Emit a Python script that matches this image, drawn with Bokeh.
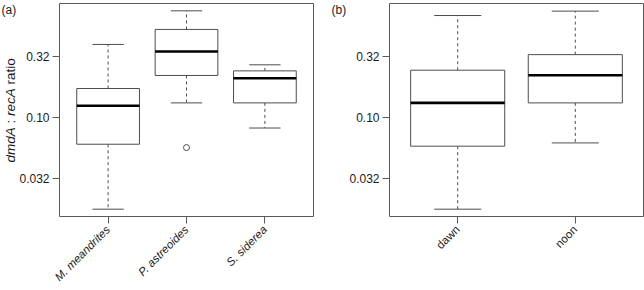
import math
from bokeh.plotting import figure
from bokeh.layouts import row
from bokeh.models import Range1d, FixedTicker, Label, ColumnDataSource
from bokeh.embed import file_html
from bokeh.resources import INLINE

# ---------------- data ----------------
species = ["M. meandrites", "P. astreoides", "S. siderea"]
sp_lo = [0.0179, 0.132, 0.0823]
sp_q1 = [0.0607, 0.221, 0.132]
sp_med = [0.125, 0.347, 0.210]
sp_q3 = [0.173, 0.525, 0.241]
sp_hi = [0.396, 0.745, 0.270]
sp_out_group = ["P. astreoides"]
sp_out_value = [0.057]

times = ["dawn", "noon"]
t_lo = [0.0179, 0.0622]
t_q1 = [0.0585, 0.132]
t_med = [0.132, 0.222]
t_q3 = [0.244, 0.327]
t_hi = [0.682, 0.741]

y_ticks = [10 ** -1.5, 0.1, 10 ** -0.5]
y_tick_labels = ["0.032", "0.10", "0.32"]

FONT = "Liberation Sans"
TEXT = "#1a1a1a"
LINE = "#4d4d4d"
FRAME = "#5a5a5a"
H = 290
FRAME_H = 214


def make_panel(cats, lo, q1, med, q3, hi, out_g, out_v, width, bl, br, italic):
    n = len(cats)
    pad = 0.04 * n
    p = figure(width=width, height=H, output_backend="svg", toolbar_location=None,
               y_axis_type="log",
               x_range=Range1d(0.5 - pad, n + 0.5 + pad),
               y_range=Range1d(0.0156, 0.855),
               min_border_left=bl, min_border_right=br,
               min_border_top=3, min_border_bottom=73)
    p.grid.visible = False
    p.outline_line_color = FRAME
    p.outline_line_width = 1
    p.background_fill_color = "white"
    p.border_fill_color = "white"

    xs = [i + 1 for i in range(n)]
    src = ColumnDataSource(dict(x=xs, lo=lo, q1=q1, med=med, q3=q3, hi=hi,
                                cl=[x - 0.2 for x in xs], cr=[x + 0.2 for x in xs],
                                bl=[x - 0.4 for x in xs], br=[x + 0.4 for x in xs]))
    p.segment(x0="x", y0="q3", x1="x", y1="hi", source=src, line_color=LINE,
              line_dash="3 3", line_width=1)
    p.segment(x0="x", y0="q1", x1="x", y1="lo", source=src, line_color=LINE,
              line_dash="3 3", line_width=1)
    p.segment(x0="cl", y0="hi", x1="cr", y1="hi", source=src, line_color=LINE, line_width=1)
    p.segment(x0="cl", y0="lo", x1="cr", y1="lo", source=src, line_color=LINE, line_width=1)
    p.vbar(x="x", width=0.8, bottom="q1", top="q3", source=src, fill_color="white",
           line_color=LINE, line_width=1)
    p.segment(x0="bl", y0="med", x1="br", y1="med", source=src, line_color="black",
              line_width=2.6)
    if out_g:
        ox = [cats.index(g) + 1 for g in out_g]
        p.scatter(ox, out_v, size=6, fill_color=None, line_color=LINE, line_width=1)

    p.xaxis.ticker = FixedTicker(ticks=xs)
    p.xaxis.major_label_overrides = {x: c for x, c in zip(xs, cats)}
    p.xaxis.major_label_orientation = math.pi / 4
    p.xaxis.major_label_text_font_style = "italic" if italic else "normal"
    p.yaxis.ticker = FixedTicker(ticks=y_ticks)
    p.yaxis.major_label_overrides = {t: l for t, l in zip(y_ticks, y_tick_labels)}
    for ax in (p.xaxis, p.yaxis):
        ax.axis_line_color = None
        ax.major_tick_line_color = FRAME
        ax.major_tick_in = 0
        ax.major_tick_out = 7
        ax.minor_tick_line_color = None
        ax.major_label_text_font = FONT
        ax.major_label_text_font_size = "12px"
        ax.major_label_text_color = TEXT
        ax.major_label_standoff = 3
    p.xaxis.major_label_text_font_size = "11.5px"
    p.xaxis.major_label_text_line_height = 1.0
    p.xaxis.major_label_standoff = 4
    return p


def strip(width):
    s = figure(width=width, height=H, output_backend="svg", toolbar_location=None,
               x_axis_location=None, y_axis_location=None,
               x_range=Range1d(0, 1), y_range=Range1d(0, 1),
               min_border=0, min_border_left=0, min_border_right=0,
               min_border_top=3, min_border_bottom=73)
    s.grid.visible = False
    s.outline_line_color = None
    s.background_fill_color = "white"
    s.border_fill_color = "white"
    return s


SA, SB = 16, 24
p1 = make_panel(species, sp_lo, sp_q1, sp_med, sp_q3, sp_hi, sp_out_group, sp_out_value,
                322 - SA, 58 - SA, 9, True)
p2 = make_panel(times, t_lo, t_q1, t_med, t_q3, t_hi, [], [], 322 - SB, 65 - SB, 1, False)

sa = strip(SA)
sb = strip(SB)

sa.add_layout(Label(x=1, y=FRAME_H, x_units="screen", y_units="screen", text="(a)",
                    text_font=FONT, text_font_size="12px", text_baseline="top",
                    text_align="left", text_color=TEXT))
sb.add_layout(Label(x=9, y=FRAME_H, x_units="screen", y_units="screen", text="(b)",
                    text_font=FONT, text_font_size="12px", text_baseline="top",
                    text_align="left", text_color=TEXT))

# y-axis title "dmdA : recA ratio" with italic gene names
pieces = [("dmdA", "italic", 54), (":", "normal", 93), ("recA", "italic", 100.6),
          ("ratio", "normal", 132.1)]
for txt, style, yy in pieces:
    sa.add_layout(Label(x=9.5, y=yy, x_units="screen", y_units="screen", text=txt,
                        angle=math.pi / 2, text_font=FONT, text_font_size="13.5px",
                        text_font_style=style, text_align="left", text_baseline="middle",
                        text_color=TEXT))

layout = row(sa, p1, sb, p2)
open("out.html", "w").write(file_html(layout, INLINE))
